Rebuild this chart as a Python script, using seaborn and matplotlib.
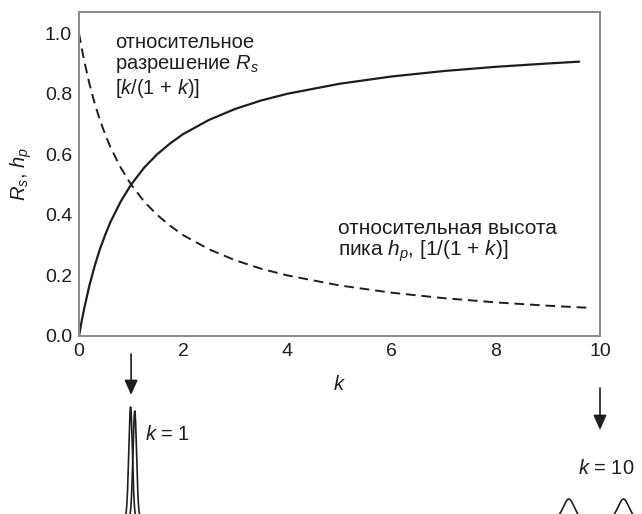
import numpy as np
import pandas as pd
import matplotlib
matplotlib.use("Agg")
import matplotlib.pyplot as plt
import seaborn as sns

# ---- data ----
k_rs = [0, 0.05, 0.1, 0.2, 0.3, 0.4, 0.5, 0.6, 0.8, 1.0, 1.25, 1.5, 1.75, 2.0,
        2.5, 3.0, 3.5, 4.0, 5.0, 6.0, 7.0, 8.0, 9.0, 9.6]
rs_vals = [0.0, 0.048, 0.091, 0.167, 0.231, 0.286, 0.333, 0.375, 0.444, 0.5,
           0.556, 0.6, 0.636, 0.667, 0.714, 0.75, 0.778, 0.8, 0.833, 0.857,
           0.875, 0.889, 0.9, 0.906]
k_hp = [0, 0.05, 0.1, 0.2, 0.3, 0.4, 0.5, 0.6, 0.8, 1.0, 1.25, 1.5, 1.75, 2.0,
        2.5, 3.0, 3.5, 4.0, 5.0, 6.0, 7.0, 8.0, 9.0, 9.8]
hp_vals = [1.0, 0.952, 0.909, 0.833, 0.769, 0.714, 0.667, 0.625, 0.556, 0.5,
           0.444, 0.4, 0.364, 0.333, 0.286, 0.25, 0.222, 0.2, 0.167, 0.143,
           0.125, 0.111, 0.1, 0.093]
x_ticks = [0, 2, 4, 6, 8, 10]
y_ticks = [0.0, 0.2, 0.4, 0.6, 0.8, 1.0]

# schematic peaks under the axis (centre in k units, height, width)
peak_centers_k1 = [0.99, 1.07]
peak_heights_k1 = [111, 107]
peak_sigma_k1 = 0.035
peak_centers_k10 = [9.40, 10.45]
peak_heights_k10 = [19, 19]
peak_sigma_k10 = 0.10
arrow_k = [1, 10]
arrow_labels = ["$k$ = 1", "$k$ = 10"]

sns.set_style("white")
plt.rcParams["font.family"] = ["Liberation Sans", "DejaVu Sans"]
plt.rcParams["mathtext.fontset"] = "custom"
plt.rcParams["mathtext.rm"] = "Liberation Sans"
plt.rcParams["mathtext.it"] = "Liberation Sans:italic"
plt.rcParams["mathtext.bf"] = "Liberation Sans:bold"

FS = 14.5
fig = plt.figure(figsize=(6.42, 5.14), dpi=100)
ax = fig.add_axes([79 / 642, 178 / 514, 521 / 642, 324 / 514])

ink = "#1e1e1e"
df_rs = pd.DataFrame({"k": k_rs, "v": rs_vals})
df_hp = pd.DataFrame({"k": k_hp, "v": hp_vals})
sns.lineplot(data=df_rs, x="k", y="v", ax=ax, color=ink, lw=1.6)
sns.lineplot(data=df_hp, x="k", y="v", ax=ax, color=ink, lw=1.4,
             linestyle=(0, (5, 3)))

ax.set_xlim(0, 10)
ax.set_ylim(0, 1.07)
ax.set_xticks(x_ticks)
ax.set_xticklabels([str(t) for t in x_ticks])
ax.set_yticks(y_ticks)
ax.set_yticklabels([f"{t:.1f}" for t in y_ticks])
for s in ax.spines.values():
    s.set_color("#8a8a8a")
    s.set_linewidth(1.4)
ax.tick_params(axis="x", direction="in", length=7, width=1.2, color="#8a8a8a",
               labelsize=14, labelcolor=ink, pad=5)
ax.tick_params(axis="y", direction="in", length=11, width=1.2, color="#8a8a8a",
               labelsize=14, labelcolor=ink, pad=5)
ax.set_xlabel("$k$", fontsize=FS, color=ink, labelpad=11)
ax.set_ylabel("$R_s$, $h_p$", fontsize=FS, color=ink, labelpad=8)

ax.text(0.69, 0.89, "относительное\nразрешение $R_s$\n[$k$/(1 + $k$)]",
        fontsize=FS, color=ink, ha="left", va="center", linespacing=1.1)
ax.text(4.97, 0.312, "относительная высота\nпика $h_p$, [1/(1 + $k$)]",
        fontsize=FS + 0.5, color=ink, ha="left", va="center", linespacing=1.05)

# lower schematic
ax2 = fig.add_axes([79 / 642, 0, 521 / 642, 174 / 514])
ax2.set_xlim(0, 10)
ax2.set_ylim(0, 174)
ax2.axis("off")
base = -4
for centers, heights, sig in [(peak_centers_k1, peak_heights_k1, peak_sigma_k1),
                              (peak_centers_k10, peak_heights_k10, peak_sigma_k10)]:
    for c, h in zip(centers, heights):
        xs = np.linspace(c - 5 * sig, c + 5 * sig, 200)
        ys = base + h * np.exp(-0.5 * ((xs - c) / sig) ** 2)
        ax2.plot(xs, ys, color=ink, lw=1.2, clip_on=False)

arrow_tops = [160, 126]
arrow_tips = [119, 84]
for kx, yt, yb in zip(arrow_k, arrow_tops, arrow_tips):
    ax2.annotate("", xy=(kx, yb), xytext=(kx, yt), annotation_clip=False,
                 arrowprops=dict(arrowstyle="-|>,head_length=0.9,head_width=0.4",
                                 lw=1.2, color=ink, mutation_scale=10,
                                 shrinkA=0, shrinkB=0))
ax2.text(1.27, 79, arrow_labels[0], fontsize=FS, color=ink, ha="left", va="center")
ax2.text(10.12, 46, arrow_labels[1], fontsize=FS, color=ink, ha="center", va="center")

fig.savefig("out.png", dpi=100)
